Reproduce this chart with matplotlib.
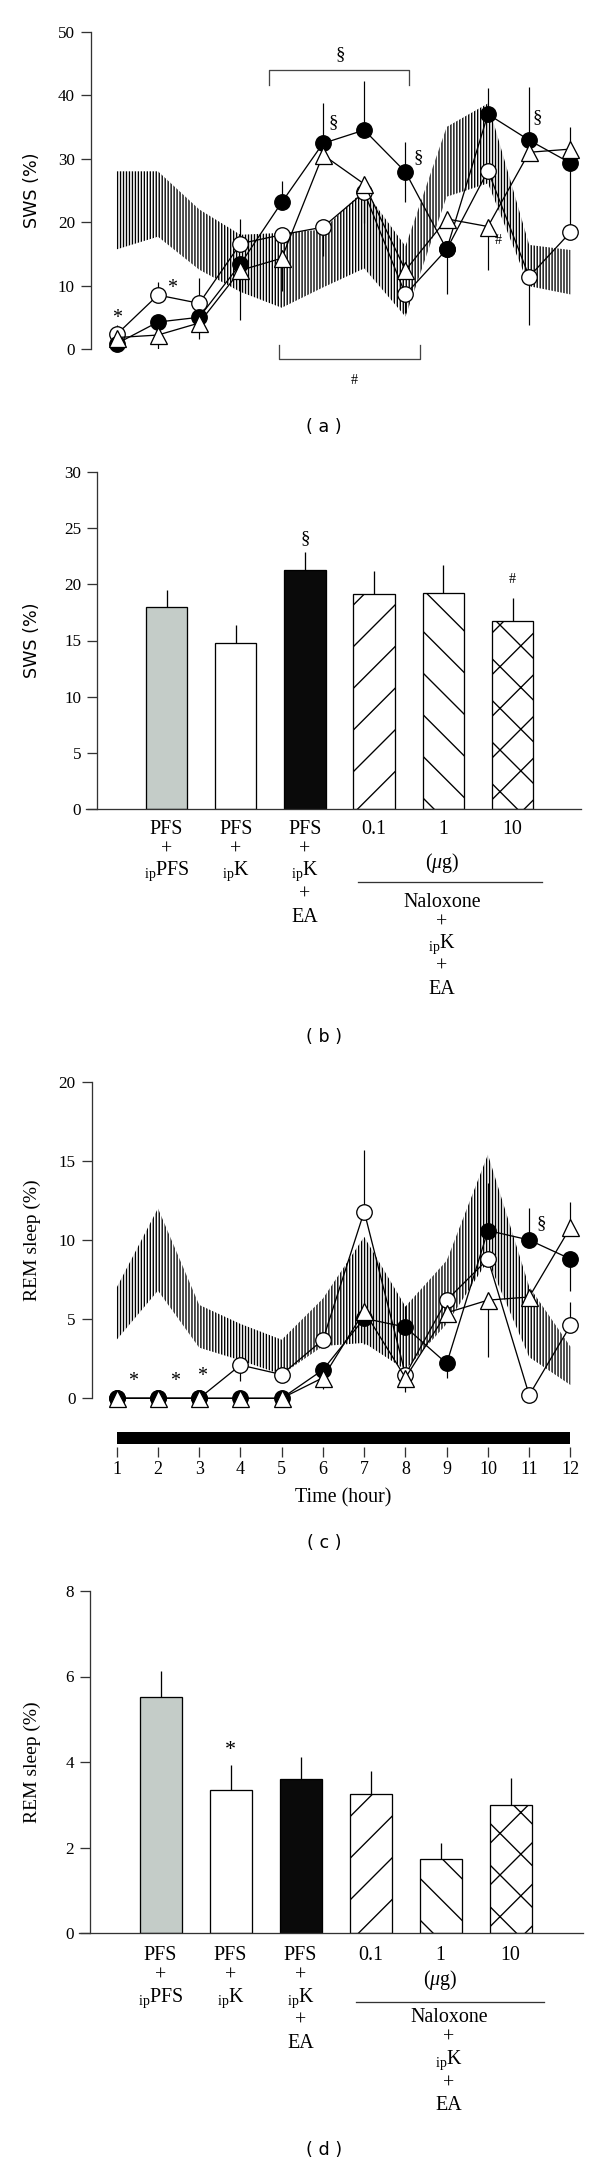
import numpy as np
import matplotlib
matplotlib.use('Agg')
import matplotlib.pyplot as plt
from matplotlib.transforms import blended_transform_factory

DPI = 125
W, H = 600, 2169


def pt(px):
    # size given in pixels -> points at the figure dpi
    return px * 72.0 / DPI


plt.rcParams['font.family'] = ['Liberation Serif', 'DejaVu Serif']
plt.rcParams['mathtext.fontset'] = 'custom'
plt.rcParams['mathtext.rm'] = 'Liberation Serif'
plt.rcParams['mathtext.it'] = 'Liberation Serif:italic'
plt.rcParams['hatch.linewidth'] = pt(1.35)

# ---------------- data ----------------
hours = np.arange(1, 13)

# (a) SWS time course (%)
sws_band_hi = [28.0, 28.0, 22.0, 18.0, 18.3, 18.8, 25.1, 16.2, 35.0, 38.7, 16.4, 15.6]
sws_band_lo = [15.7, 17.7, 12.5, 9.0, 6.5, 9.7, 12.7, 5.1, 24.0, 26.1, 9.9, 8.6]
sws_open = [2.3, 8.5, 7.2, 16.6, 18.0, 19.2, 24.7, 8.6, 15.7, 28.1, 11.4, 18.4]
sws_open_lo = [0, 0, 0, 0, 0, 4.6, 4.9, 2.9, 0, 0, 7.6, 0]
sws_open_hi = [1.5, 2.1, 4.0, 3.9, 0, 0, 0, 0, 0, 0, 0, 0]
sws_fill = [0.84, 4.25, 5.0, 13.4, 23.1, 32.4, 34.5, 27.9, 15.7, 37.0, 32.9, 29.3]
sws_fill_lo = [0, 0, 0, 0, 0, 0, 0, 4.8, 7.1, 0, 0, 11.0]
sws_fill_hi = [0, 0, 0, 0, 3.4, 6.3, 7.7, 4.7, 0, 4.1, 8.4, 0]
sws_tri = [1.8, 2.2, 4.1, 12.4, 14.3, 30.6, 26.0, 12.4, 20.5, 19.3, 31.0, 31.5]
sws_tri_lo = [0, 2.2, 2.5, 7.8, 5.2, 0, 0, 0, 0, 6.8, 0, 0]
sws_tri_hi = [0, 0, 0, 0, 0, 0, 0, 0, 0, 0, 0, 3.5]

# (c) REM time course (%)
rem_band_hi = [7.0, 12.0, 5.9, 4.7, 3.7, 6.3, 10.2, 5.8, 8.7, 15.4, 7.05, 3.26]
rem_band_lo = [3.7, 6.8, 3.2, 2.4, 1.5, 3.3, 3.5, 1.8, 4.7, 8.7, 2.6, 0.84]
rem_open = [0, 0, 0, 2.1, 1.5, 3.7, 11.8, 1.5, 6.2, 8.8, 0.2, 4.6]
rem_open_lo = [0, 0, 0, 1.0, 0.5, 0, 0, 0, 0, 0, 0, 0]
rem_open_hi = [0, 0, 0, 0, 0, 0, 3.9, 0, 0, 0, 0, 1.5]
rem_fill = [0, 0, 0, 0, 0, 1.8, 5.05, 4.5, 2.2, 10.6, 10.0, 8.8]
rem_fill_lo = [0, 0, 0, 0, 0, 0, 1.6, 0, 0.9, 0, 0, 2.0]
rem_fill_hi = [0, 0, 0, 0, 0, 0, 0, 1.3, 0, 3.0, 2.0, 0]
rem_tri = [0, 0, 0, 0, 0, 1.3, 5.5, 1.3, 5.4, 6.2, 6.4, 10.8]
rem_tri_lo = [0, 0, 0, 0, 0, 0.7, 0, 0.9, 0, 3.6, 0, 0]
rem_tri_hi = [0, 0, 0, 0, 0, 0, 0, 0, 0, 0, 0, 1.6]

# (b) and (d) group means
groups = np.arange(6)
sws_bars = [18.0, 14.8, 21.3, 19.1, 19.2, 16.7]
sws_bars_err = [1.5, 1.6, 1.6, 2.1, 2.5, 2.1]
rem_bars = [5.53, 3.34, 3.6, 3.26, 1.73, 3.0]
rem_bars_err = [0.6, 0.58, 0.51, 0.52, 0.38, 0.63]
bar_colors = ['#c4ccc8', 'white', '#0a0a0a', 'white', 'white', 'white']
bar_hatches = [None, None, None, '/', '\\', 'x']
doses = ['0.1', '1', '10']
ip = r'${}_{\mathrm{ip}}$'
group_rows = [['PFS', '+', ip + 'PFS'],
              ['PFS', '+', ip + 'K'],
              ['PFS', '+', ip + 'K', '+', 'EA']]
nalox_rows = ['Naloxone', '+', ip + 'K', '+', 'EA']

# ---------------- figure ----------------
fig = plt.figure(figsize=(W / DPI, H / DPI), dpi=DPI)
SPINE = '#333333'


def add_ax(x0, y0, x1, y1):
    return fig.add_axes([x0 / W, 1 - y1 / H, (x1 - x0) / W, (y1 - y0) / H])


def hour_lim(px0, px1):
    return 1 + (px0 - 116.7) / 41.25, 1 + (px1 - 116.7) / 41.25


def style_y(ax, ticks):
    for s in ['top', 'right', 'bottom']:
        ax.spines[s].set_visible(False)
    ax.spines['left'].set_color(SPINE)
    ax.spines['left'].set_linewidth(pt(1.3))
    ax.set_yticks(ticks)
    ax.tick_params(axis='y', direction='out', length=pt(10), width=pt(1.3),
                   color=SPINE, pad=pt(6), labelsize=pt(17))
    ax.set_xticks([])


def ylab(text, ypx, family=None, size=19.5):
    kw = {'family': family} if family else {}
    fig.text(32 / W, 1 - ypx / H, text, rotation=90, ha='center', va='center',
             fontsize=pt(size), **kw)


def panel_tag(text, ypx):
    fig.text(324 / W, 1 - ypx / H, text, ha='center', va='center',
             family='DejaVu Sans', fontsize=pt(17.5))


def time_course(ax, band_lo, band_hi, series):
    ax.fill_between(hours, band_lo, band_hi, facecolor='none', edgecolor='black',
                    hatch='|' * 7, linewidth=0, zorder=1)
    for vals, lo, hi, marker, mfc, ms, z in series:
        ax.errorbar(hours, vals, yerr=[lo, hi], fmt='none', ecolor='black',
                    elinewidth=pt(1.2), capsize=0, zorder=2)
        ax.plot(hours, vals, color='black', lw=pt(1.3), marker=marker, ms=ms,
                mfc=mfc, mec='black', mew=pt(1.3), zorder=z, clip_on=False)


# ---- (a) SWS time course ----
ax_a = add_ax(91, 31.7, 590, 349)
ax_a.set_xlim(*hour_lim(91, 590))
ax_a.set_ylim(0, 50)
style_y(ax_a, range(0, 51, 10))
ax_a.spines['left'].set_bounds(0, 50)
time_course(ax_a, sws_band_lo, sws_band_hi, [
    (sws_open, sws_open_lo, sws_open_hi, 'o', 'white', pt(15.5), 3),
    (sws_fill, sws_fill_lo, sws_fill_hi, 'o', 'black', pt(15.5), 4),
    (sws_tri, sws_tri_lo, sws_tri_hi, '^', 'white', pt(17), 5),
])
for x, y, s, size in [(1.0, 4.8, '*', 20), (2.33, 9.5, '*', 20),
                      (6.24, 35.6, '§', 19), (8.3, 30.1, '§', 19),
                      (11.2, 36.4, '§', 19), (10.25, 17.1, '#', 14)]:
    ax_a.text(x, y, s, ha='center', va='center', fontsize=pt(size), clip_on=False)
ax_a.plot([4.69, 4.69, 8.09, 8.09], [41.6, 43.9, 43.9, 41.6], color='#444444',
          lw=pt(1.3), clip_on=False)
ax_a.text(6.42, 46.4, '§', ha='center', va='center', fontsize=pt(19))
ax_a.plot([4.94, 4.94, 8.35, 8.35], [0.6, -1.5, -1.5, 0.6], color='#444444',
          lw=pt(1.3), clip_on=False)
ax_a.text(6.77, -4.9, '#', ha='center', va='center', fontsize=pt(14))
ylab('SWS (%)', 190, family='DejaVu Sans', size=17.5)
panel_tag('( a )', 427)


# ---- bar panels ----
def bar_panel(box, c0, sp, spine_px, vals, errs, ymax, ystep, rows_y, dose_y,
              ug, rule, nal):
    x0, y0, x1, y1 = box
    ax = add_ax(x0, y0, x1, y1)
    ax.set_xlim((x0 - c0) / sp, (x1 - c0) / sp)
    ax.set_ylim(0, ymax)
    style_y(ax, np.arange(0, ymax + 0.01, ystep))
    ax.spines['left'].set_position(('data', (spine_px - c0) / sp))
    ax.spines['bottom'].set_visible(True)
    ax.spines['bottom'].set_color(SPINE)
    ax.spines['bottom'].set_linewidth(pt(1.3))
    bars = ax.bar(groups, vals, width=0.6, color=bar_colors, edgecolor='black',
                  linewidth=pt(1.3), zorder=2)
    for b, h in zip(bars, bar_hatches):
        if h:
            b.set_hatch(h)
    ax.errorbar(groups, vals, yerr=[np.zeros(len(vals)), errs], fmt='none',
                ecolor='black', elinewidth=pt(1.3), capsize=0, zorder=1)
    tr = blended_transform_factory(ax.transData, fig.transFigure)

    def put(x, ypx, s):
        ax.text(x, 1 - ypx / H, s, transform=tr, ha='center', va='center',
                fontsize=pt(20), clip_on=False)

    for g, rows in zip(groups[:3], group_rows):
        for s, ypx in zip(rows, rows_y):
            put(g, ypx, s)
    for g, s in zip(groups[3:], doses):
        put(g, dose_y, s)
    put(ug[0], ug[1], r'($\mu$g)')
    ax.plot([rule[0], rule[1]], [1 - rule[2] / H] * 2, color='#333333',
            lw=pt(1.3), transform=tr, clip_on=False)
    for s, ypx in zip(nalox_rows, nal[1]):
        put(nal[0], ypx, s)
    return ax


ax_b = bar_panel((86, 472, 581, 809), 166.5, 69.2, 97.3, sws_bars, sws_bars_err,
                 30, 5, [830, 850, 871, 895, 917], 830, (3.98, 863),
                 (2.77, 5.43, 882), (3.98, [902, 923, 944, 967, 990]))
ax_b.text(2, 24.1, '§', ha='center', va='center', fontsize=pt(19))
ax_b.text(5, 20.4, '#', ha='center', va='center', fontsize=pt(14))
ylab('SWS (%)', 640, family='DejaVu Sans', size=17.5)
panel_tag('( b )', 1037)

# ---- (c) REM time course ----
ax_c = add_ax(91.7, 1081.7, 590, 1398.3)
ax_c.set_xlim(*hour_lim(91.7, 590))
ax_c.set_ylim(0, 20)
style_y(ax_c, range(0, 21, 5))
time_course(ax_c, rem_band_lo, rem_band_hi, [
    (rem_open, rem_open_lo, rem_open_hi, 'o', 'white', pt(15.5), 3),
    (rem_fill, rem_fill_lo, rem_fill_hi, 'o', 'black', pt(15.5), 4),
    (rem_tri, rem_tri_lo, rem_tri_hi, '^', 'white', pt(17), 5),
])
for x, y, s, size in [(1.39, 1.05, '*', 20), (2.41, 1.05, '*', 20),
                      (3.08, 1.4, '*', 20), (11.28, 11.05, '§', 19)]:
    ax_c.text(x, y, s, ha='center', va='center', fontsize=pt(size), clip_on=False)
ylab('REM sleep (%)', 1240)

# dark-period bar and time axis
ax_t = add_ax(91.7, 1432, 590, 1443.5)
ax_t.set_xlim(*hour_lim(91.7, 590))
ax_t.set_ylim(0, 1)
ax_t.barh(0.5, hours[-1] - hours[0], left=hours[0], height=1, color='black')
for s in ['top', 'right', 'left']:
    ax_t.spines[s].set_visible(False)
ax_t.spines['bottom'].set_position(('outward', pt(3.5)))
ax_t.spines['bottom'].set_color('none')
ax_t.set_yticks([])
ax_t.set_xticks(hours)
ax_t.tick_params(axis='x', direction='out', length=pt(9.5), width=pt(1.3),
                 color=SPINE, pad=pt(5), labelsize=pt(18))
fig.text(ax_t.transData.transform((6.5, 0))[0] / W, 1 - 1498 / H, 'Time (hour)',
         ha='center', va='center', fontsize=pt(20))
panel_tag('( c )', 1543)

# ---- (d) REM bars ----
ax_d = bar_panel((79, 1591, 583, 1933), 160.5, 70.0, 90, rem_bars, rem_bars_err,
                 8, 2, [1955, 1976, 1998, 2021, 2044], 1955, (3.99, 1980),
                 (2.79, 5.48, 2002), (4.12, [2018, 2038, 2060, 2084, 2106]))
ax_d.text(1, 4.28, '*', ha='center', va='center', fontsize=pt(22))
ylab('REM sleep (%)', 1762)
panel_tag('( d )', 2150)

fig.savefig('out.png', dpi=DPI)
